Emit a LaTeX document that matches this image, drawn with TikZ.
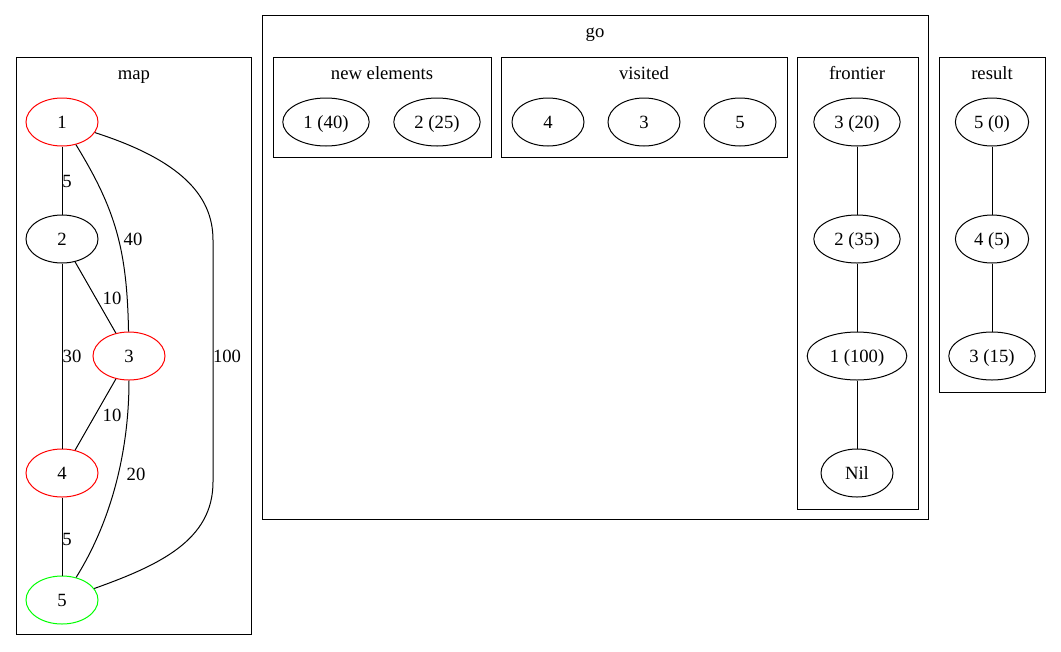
\documentclass[tikz,border=0pt]{standalone}
\usepackage{fontspec}
\setmainfont{Liberation Serif}
\usetikzlibrary{shapes.geometric}

\tikzset{
  vertex/.style={draw,ellipse,minimum width=54pt,minimum height=36pt,inner xsep=6pt,inner ysep=0pt,text height=9.5pt,text depth=0pt},
  weight/.style={inner sep=0pt,text height=9.5pt,text depth=0pt},
  cluster/.style={draw,black},
}

\begin{document}
\begin{tikzpicture}[x=0.75pt,y=-0.75pt,line width=0.75pt,font=\fontsize{14pt}{16pt}\selectfont]
\useasboundingbox (0,0) rectangle (1061,651);

% clusters
\draw[cluster] (16,57) rectangle (251,634);
\draw[cluster] (262,15) rectangle (928,519);
\draw[cluster] (273,57) rectangle (491,157);
\draw[cluster] (501,57) rectangle (787,157);
\draw[cluster] (797,57) rectangle (918,509);
\draw[cluster] (939,57) rectangle (1045,392);
\node[weight] (tmap) at (134,73) {map};
\node[weight] (tgo) at (595,31) {go};
\node[weight] (tnew) at (382,73) {new elements};
\node[weight] (tvis) at (644,73) {visited};
\node[weight] (tfro) at (857,73) {frontier};
\node[weight] (tres) at (992,73) {result};

% map
\node[vertex,draw=red] (m1) at (62,122) {1};
\node[vertex] (m2) at (62,239) {2};
\node[vertex,draw=red] (m3) at (129,356) {3};
\node[vertex,draw=red] (m4) at (62,473) {4};
\node[vertex,draw=green] (m5) at (62,600) {5};

\draw (m1) -- (m2);
\draw (m2) -- (m3);
\draw (m2) -- (m4);
\draw (m3) -- (m4);
\draw (m4) -- (m5);
\draw (m1) .. controls (116,210) and (127,250) .. (m3);
\draw (m3) .. controls (129,450) and (112,520) .. (m5);
\draw (m1) .. controls (180,160) and (213,195) .. (213,240) -- (213,482)
  .. controls (213,540) and (160,565) .. (m5);

% weights
\node[weight] (w12) at (67,181) {5};
\node[weight] (w13) at (133,239) {40};
\node[weight] (w15) at (227,356) {100};
\node[weight] (w23) at (112,298) {10};
\node[weight] (w24) at (72,356) {30};
\node[weight] (w34) at (112,415) {10};
\node[weight] (w35) at (136,474) {20};
\node[weight] (w45) at (67,539) {5};

% go
\node[vertex] (ne1) at (326,122) {1 (40)};
\node[vertex] (ne2) at (437,122) {2 (25)};
\node[vertex] (v4) at (548,122) {4};
\node[vertex] (v3) at (644,122) {3};
\node[vertex] (v5) at (740,122) {5};
\node[vertex] (f1) at (857,122) {3 (20)};
\node[vertex] (f2) at (857,239) {2 (35)};
\node[vertex] (f3) at (857,356) {1 (100)};
\node[vertex] (f4) at (857,473) {Nil};

% result
\node[vertex] (r1) at (992,122) {5 (0)};
\node[vertex] (r2) at (992,239) {4 (5)};
\node[vertex] (r3) at (992,356) {3 (15)};

\foreach \a/\b in {f1/f2,f2/f3,f3/f4,r1/r2,r2/r3}
  \draw (\a) -- (\b);
\end{tikzpicture}
\end{document}
